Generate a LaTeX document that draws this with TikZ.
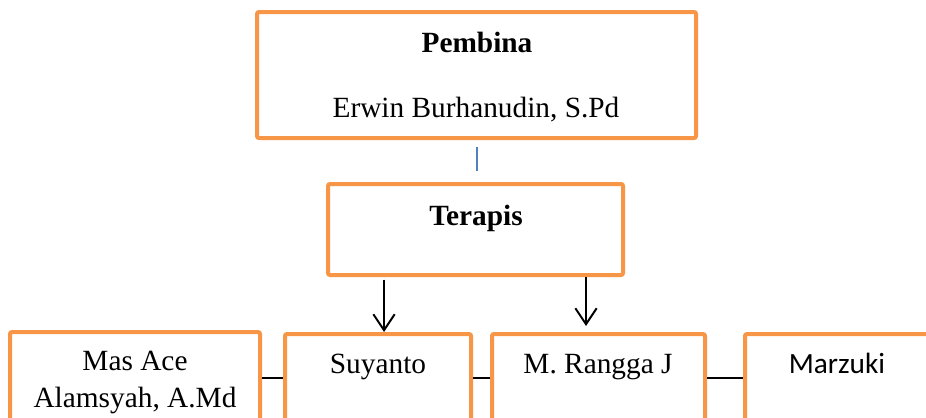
\documentclass[tikz,border=0pt]{standalone}
\usepackage{fontspec}
\setmainfont{Liberation Serif}
\newfontfamily\calibrifont{Carlito}
\usetikzlibrary{arrows.meta}
\definecolor{boxorange}{RGB}{247,150,70}
\definecolor{lineblue}{RGB}{79,129,189}
\tikzset{every picture/.style={line width=0.75pt}}
\tikzset{
orgbox/.style={draw=boxorange, line width=3pt, rounded corners=1.5pt, inner sep=0pt},
boxtext/.style={anchor=base, inner sep=0.75pt, font=\fontsize{22}{26}\selectfont},
downarrow/.style={line width=1.5pt, -{Straight Barb[length=12pt,width=16pt,line width=1.5pt]}},
linkline/.style={line width=1.1pt}}

\begin{document}
\begin{tikzpicture}[x=0.75pt,y=0.75pt,yscale=-1,xscale=1]
\useasboundingbox (0,0) rectangle (926,418);
\clip (0,0) rectangle (926,418);

%Shape: Rectangle [id:pembina]
\node [orgbox, minimum width=329.25pt, minimum height=94.5pt] (pem) at (476.5,75) {};
%Shape: Rectangle [id:terapis]
\node [orgbox, minimum width=221.25pt, minimum height=68.25pt] (ter) at (475.5,229.5) {};
%Shape: Rectangle [id:masace]
\node [orgbox, minimum width=187.5pt, minimum height=69pt] (mas) at (135,378) {};
%Shape: Rectangle [id:suyanto]
\node [orgbox, minimum width=139.5pt, minimum height=66pt] (suy) at (378,378) {};
%Shape: Rectangle [id:rangga]
\node [orgbox, minimum width=159.75pt, minimum height=66pt] (ran) at (598.5,378) {};
%Shape: Rectangle [id:marzuki]
\node [orgbox, minimum width=150pt, minimum height=66pt] (mar) at (845,378) {};

%Straight Lines [id:blue]
\draw [lineblue, line width=1.5pt, shorten <=5.25pt, shorten >=8.25pt] (pem.south) -- (pem.south |- ter.north) ;
%Straight Lines [id:arrows]
\draw [downarrow, shorten <=2pt] (ter.south -| 384,0) -- (suy.north -| 384,0) ;
\draw [downarrow, shorten >=4.5pt] (ter.south -| 586,0) -- (ran.north -| 586,0) ;
%Straight Lines [id:links]
\draw [linkline] (mas.east) -- (suy.west) ;
\draw [linkline] (suy.east) -- (ran.west) ;
\draw [linkline] (ran.east) -- (mar.west) ;

% Text Node
\node [boxtext] (pemtitle) at (477,52) {\textbf{Pembina}};
% Text Node
\node [boxtext] (pemname) at (476,117) {Erwin Burhanudin, S.Pd};
% Text Node
\node [boxtext] (tertitle) at (476,225) {\textbf{Terapis}};
% Text Node
\node [boxtext] (masline1) at (135,370) {Mas Ace};
% Text Node
\node [boxtext] (masline2) at (135,407) {Alamsyah, A.Md};
% Text Node
\node [boxtext] (suyname) at (378,373) {Suyanto};
% Text Node
\node [boxtext] (ranname) at (598,373) {M. Rangga J};
% Text Node
\node [boxtext, font=\fontsize{22}{26}\calibrifont] (marname) at (837,373) {Marzuki};

\end{tikzpicture}
\end{document}
